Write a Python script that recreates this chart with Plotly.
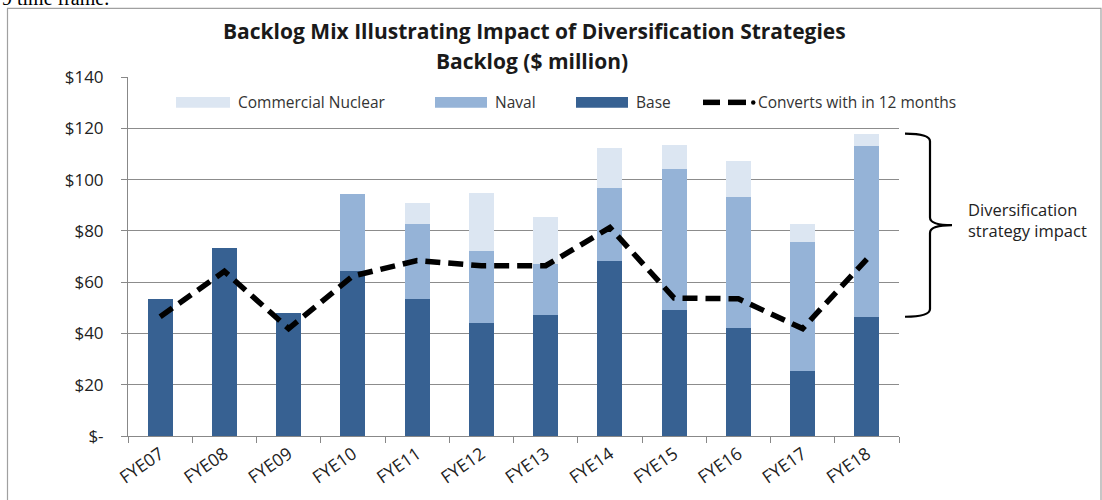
import plotly.graph_objects as go

# ---- data ----
years = ["FYE07", "FYE08", "FYE09", "FYE10", "FYE11", "FYE12",
         "FYE13", "FYE14", "FYE15", "FYE16", "FYE17", "FYE18"]
base = [53.5, 73.3, 48.0, 64.5, 53.4, 44.1, 47.0, 68.4, 49.0, 42.3, 25.5, 46.5]
naval = [0, 0, 0, 29.7, 29.2, 27.9, 20.1, 28.4, 55.3, 50.9, 50.2, 66.5]
commercial = [0, 0, 0, 0, 8.4, 22.9, 18.5, 15.5, 9.1, 14.0, 6.9, 4.9]
converts = [46.5, 64.2, 41.9, 62.4, 68.4, 66.4, 66.4, 81.3, 53.8, 53.5, 41.9, 69.0]
y_tickvals = [0, 20, 40, 60, 80, 100, 120, 140]
y_ticktext = ["$-", "$20", "$40", "$60", "$80", "$100", "$120", "$140"]
legend_names = ["Commercial Nuclear", "Naval", "Base", "Converts with in 12 months"]

C_BASE = "#376192"
C_NAVAL = "#95B3D7"
C_COMM = "#DCE6F2"
FONT = "Open Sans"

W, H = 1102, 500
L, R, T, B = 128, 899, 77, 438          # plot area in page pixels


def px(xp):
    return (xp - L) / (R - L)


def py(yp):
    return (B - yp) / (B - T)


fig = go.Figure()
fig.add_trace(go.Bar(x=years, y=base, name="Base", marker_color=C_BASE,
                     marker_line_width=0))
fig.add_trace(go.Bar(x=years, y=naval, name="Naval", marker_color=C_NAVAL,
                     marker_line_width=0))
fig.add_trace(go.Bar(x=years, y=commercial, name="Commercial Nuclear",
                     marker_color=C_COMM, marker_line_width=0))
fig.add_trace(go.Scatter(x=years, y=converts, mode="lines",
                         name="Converts with in 12 months",
                         line=dict(color="black", width=5.5, dash="15px,8px")))

# bracket spanning FYE18 base .. total
top = base[-1] + naval[-1] + commercial[-1]
bot = base[-1]
mid = (top + bot) / 2
xl, xv, xt = px(905), px(930), px(952)
k = 3.0
path = (f"M {xl},{top} Q {xv},{top} {xv},{top - k} "
        f"L {xv},{mid + k} Q {xv},{mid} {xt},{mid} "
        f"Q {xv},{mid} {xv},{mid - k} "
        f"L {xv},{bot + k} Q {xv},{bot} {xl},{bot}")

shapes = [
    dict(type="path", path=path, xref="paper", yref="y",
         line=dict(color="black", width=2.2)),
    dict(type="rect", xref="paper", yref="paper",
         x0=px(7.5), x1=px(1101), y0=py(520), y1=py(8),
         line=dict(color="#a0a0a0", width=1.2)),
]

# custom legend (wide Excel-like swatches)
sw_y0, sw_y1 = py(108), py(97)
leg_y = py(102.5)
for (x0, x1), col in zip([(176, 230), (435, 487), (576, 628)],
                         [C_COMM, C_NAVAL, C_BASE]):
    shapes.append(dict(type="rect", xref="paper", yref="paper",
                       x0=px(x0), x1=px(x1), y0=sw_y0, y1=sw_y1,
                       fillcolor=col, line=dict(width=0)))
for (x0, x1) in [(703, 720), (728, 746)]:
    shapes.append(dict(type="line", xref="paper", yref="paper",
                       x0=px(x0), x1=px(x1), y0=leg_y, y1=leg_y,
                       line=dict(color="black", width=5.5)))
shapes.append(dict(type="circle", xref="paper", yref="paper",
                   x0=px(751), x1=px(755.5), y0=py(104.8), y1=py(100.3),
                   fillcolor="black", line=dict(width=0)))

annotations = [
    dict(text="<b>Backlog Mix Illustrating Impact of Diversification Strategies</b>",
         xref="paper", yref="paper", x=px(534.5), y=py(31),
         xanchor="center", yanchor="middle", showarrow=False,
         font=dict(size=21, color="#1a1a1a")),
    dict(text="<b>Backlog ($ million)</b>",
         xref="paper", yref="paper", x=px(532), y=py(61),
         xanchor="center", yanchor="middle", showarrow=False,
         font=dict(size=21, color="#1a1a1a")),
    dict(text="Diversification<br>strategy impact",
         xref="paper", yref="y", x=px(966), y=mid + 2,
         xanchor="left", yanchor="middle", align="left",
         showarrow=False, font=dict(size=16.5, color="#222")),
    dict(text="9 time frame.", xref="paper", yref="paper",
         x=px(0), y=py(-2), xanchor="left", yanchor="middle",
         showarrow=False,
         font=dict(family="Liberation Serif", size=20, color="black")),
]
for name, xt0 in zip(legend_names, [236, 493, 634, 756]):
    annotations.append(dict(text=name, xref="paper", yref="paper",
                            x=px(xt0), y=leg_y, xanchor="left",
                            yanchor="middle", showarrow=False,
                            font=dict(size=15.5, color="#333")))

fig.update_layout(
    width=W, height=H,
    margin=dict(l=L, r=W - R, t=T, b=H - B),
    paper_bgcolor="white", plot_bgcolor="white",
    barmode="stack", bargap=0.61,
    font=dict(family=FONT, size=14, color="#222"),
    showlegend=False,
    xaxis=dict(type="category", tickangle=-35, showline=True,
               linecolor="#888", linewidth=1, ticks="outside",
               tickson="boundaries", ticklen=6, tickcolor="#888",
               tickfont=dict(size=17.5, color="#222"), showgrid=False),
    yaxis=dict(range=[0, 140], tickvals=y_tickvals, ticktext=y_ticktext,
               showline=True, linecolor="#888", linewidth=1,
               ticks="outside", ticklen=6, tickcolor="#888",
               ticklabelstandoff=14,
               showgrid=True, gridcolor="#8c8c8c", gridwidth=1,
               tickfont=dict(size=17, color="#222"), zeroline=False),
    shapes=shapes,
    annotations=annotations,
)

fig.write_html("out.html", config={"displayModeBar": False},
               post_script="document.body.style.margin='0px';"
                           "document.body.style.overflow='hidden';")
